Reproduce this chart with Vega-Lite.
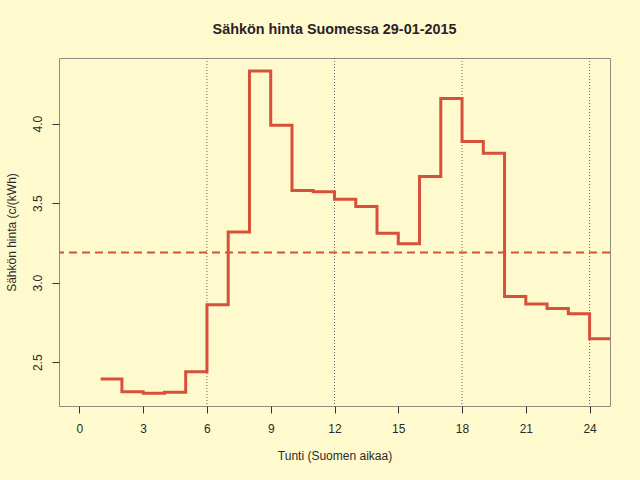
{
  "$schema": "https://vega.github.io/schema/vega-lite/v6.json",
  "autosize": "none",
  "width": 551,
  "height": 348,
  "padding": {"left": 59, "top": 58, "right": 30, "bottom": 74},
  "background": "#FFFACD",
  "title": {"text": "Sähkön hinta Suomessa 29-01-2015", "font": "Liberation Sans", "fontSize": 14.4, "fontWeight": "bold", "color": "#2a1f2a", "offset": 20, "anchor": "middle"},
  "config": {
    "view": {"stroke": "#8f8c80", "strokeWidth": 1, "fill": "#FFFACD"},
    "axis": {"labelFont": "Liberation Sans", "titleFont": "Liberation Sans", "labelFontSize": 12, "titleFontSize": 12, "titleFontWeight": "normal", "labelColor": "#2a2a2a", "titleColor": "#2a2a2a", "tickColor": "#333333", "domain": false, "grid": false, "tickSize": 7}
  },
  "datasets": {
    "prices": [
      {"hour": 1, "price": 2.395}, {"hour": 2, "price": 2.315}, {"hour": 3, "price": 2.305}, {"hour": 4, "price": 2.311},
      {"hour": 5, "price": 2.44}, {"hour": 6, "price": 2.861}, {"hour": 7, "price": 3.319}, {"hour": 8, "price": 4.33},
      {"hour": 9, "price": 3.99}, {"hour": 10, "price": 3.58}, {"hour": 11, "price": 3.571}, {"hour": 12, "price": 3.525},
      {"hour": 13, "price": 3.479}, {"hour": 14, "price": 3.31}, {"hour": 15, "price": 3.244}, {"hour": 16, "price": 3.668},
      {"hour": 17, "price": 4.158}, {"hour": 18, "price": 3.888}, {"hour": 19, "price": 3.813}, {"hour": 20, "price": 2.913},
      {"hour": 21, "price": 2.866}, {"hour": 22, "price": 2.838}, {"hour": 23, "price": 2.804}, {"hour": 24, "price": 2.647},
      {"hour": 25, "price": 2.647}
    ],
    "vlines": [{"hour": 6}, {"hour": 12}, {"hour": 18}, {"hour": 24}],
    "mean": [{"price": 3.19}]
  },
  "layer": [
    {
      "data": {"name": "vlines"},
      "mark": {"type": "rule", "color": "#666666", "strokeWidth": 1, "strokeDash": [1, 2]},
      "encoding": {
        "x": {"field": "hour", "type": "quantitative", "scale": {"domain": [-0.96, 24.96], "nice": false, "zero": false}}
      }
    },
    {
      "data": {"name": "mean"},
      "mark": {"type": "rule", "color": "#D6503A", "strokeWidth": 2, "strokeDash": [8, 5]},
      "encoding": {
        "y": {"field": "price", "type": "quantitative"}
      }
    },
    {
      "data": {"name": "prices"},
      "mark": {"type": "line", "interpolate": "step-after", "color": "#D6503A", "strokeWidth": 3, "clip": true},
      "encoding": {
        "x": {"field": "hour", "type": "quantitative", "scale": {"domain": [-0.96, 24.96], "nice": false, "zero": false},
          "axis": {"values": [0, 3, 6, 9, 12, 15, 18, 21, 24], "title": "Tunti (Suomen aikaa)", "labelPadding": 10, "titlePadding": 16}},
        "y": {"field": "price", "type": "quantitative", "scale": {"domain": [2.225, 4.412], "nice": false, "zero": false},
          "axis": {"values": [2.5, 3.0, 3.5, 4.0], "format": ".1f", "labelAngle": -90, "labelAlign": "center", "labelBaseline": "bottom", "labelPadding": 8, "title": "Sähkön hinta (c/(kWh)", "titlePadding": 13}}
      }
    }
  ]
}
